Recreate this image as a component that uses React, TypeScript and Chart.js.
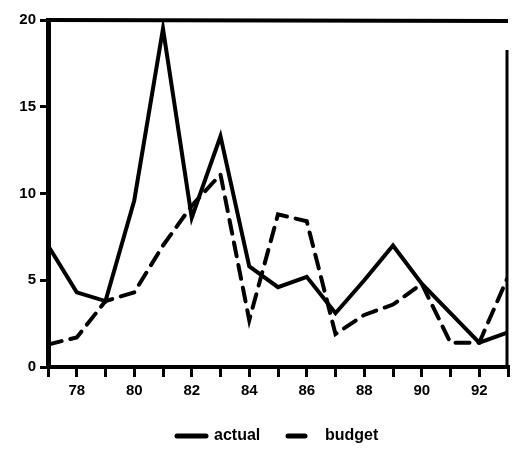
import React, { useEffect, useRef } from "react";
import { Chart, registerables } from "chart.js";

Chart.register(...registerables);

const years = [77, 78, 79, 80, 81, 82, 83, 84, 85, 86, 87, 88, 89, 90, 91, 92, 93];
const actual = [7.0, 4.3, 3.8, 9.6, 19.5, 8.6, 13.3, 5.8, 4.6, 5.2, 3.1, 5.0, 7.0, 4.8, 3.1, 1.4, 2.0];
const budget = [1.3, 1.7, 3.8, 4.3, 7.0, 9.3, 11.1, 2.7, 8.8, 8.4, 1.9, 3.0, 3.6, 4.8, 1.4, 1.4, 5.2];
const yTicks = [0, 5, 10, 15, 20];
const seriesNames = ["actual", "budget"];

const FONT = "'Liberation Sans', Arial, sans-serif";

const framePlugin = {
  id: "frame",
  afterDraw(chart: any) {
    const ctx = chart.ctx;
    const a = chart.chartArea;
    ctx.save();
    ctx.strokeStyle = "#000";
    ctx.lineCap = "butt";
    // top border
    ctx.lineWidth = 4;
    ctx.beginPath();
    ctx.moveTo(a.left, a.top);
    ctx.lineTo(a.right, a.top + 1);
    ctx.stroke();
    // right border
    ctx.lineWidth = 3;
    ctx.beginPath();
    ctx.moveTo(a.right - 1, a.top + 30);
    ctx.lineTo(a.right - 1, a.bottom);
    ctx.stroke();
    // legend
    const cy = 436;
    ctx.lineCap = "round";
    ctx.lineWidth = 5;
    ctx.setLineDash([]);
    ctx.beginPath();
    ctx.moveTo(177, cy);
    ctx.lineTo(206, cy);
    ctx.stroke();
    ctx.beginPath();
    ctx.moveTo(288, cy);
    ctx.lineTo(305, cy);
    ctx.stroke();
    ctx.fillStyle = "#000";
    ctx.font = "bold 16px " + FONT;
    ctx.textBaseline = "middle";
    ctx.textAlign = "left";
    ctx.fillText(seriesNames[0], 214, cy);
    ctx.fillText(seriesNames[1], 325, cy);
    ctx.restore();
  },
};

export default function App() {
  const ref = useRef<HTMLCanvasElement | null>(null);
  useEffect(() => {
    if (!ref.current) return;
    const chart = new Chart(ref.current, {
      type: "line",
      data: {
        labels: years,
        datasets: [
          {
            label: seriesNames[0],
            data: years.map((x, i) => ({ x, y: actual[i] })),
            borderColor: "#000",
            borderWidth: 4,
            pointRadius: 0,
            tension: 0,
            borderJoinStyle: "miter",
          },
          {
            label: seriesNames[1],
            data: years.map((x, i) => ({ x, y: budget[i] })),
            borderColor: "#000",
            borderWidth: 4,
            borderDash: [14, 9],
            borderCapStyle: "round",
            pointRadius: 0,
            tension: 0,
          },
        ],
      },
      options: {
        animation: false,
        responsive: true,
        maintainAspectRatio: false,
        layout: { padding: { top: 20, right: 4, bottom: 46, left: 0 } },
        plugins: { legend: { display: false }, tooltip: { enabled: false } },
        scales: {
          x: {
            type: "linear",
            min: 77,
            max: 93,
            afterFit: (s: any) => {
              s.height = 40;
            },
            afterBuildTicks: (s: any) => {
              s.ticks = years.map((v) => ({ value: v }));
            },
            ticks: {
              autoSkip: false,
              maxRotation: 0,
              color: "#000",
              font: { family: FONT, size: 15, weight: "bold" },
              padding: 5,
              callback: (v: any) => (Number(v) % 2 === 0 ? String(v) : ""),
            },
            grid: {
              display: true,
              drawOnChartArea: false,
              drawTicks: true,
              tickLength: 10,
              lineWidth: 3,
              color: "#000",
            },
            border: { display: true, color: "#000", width: 4 },
          },
          y: {
            min: 0,
            max: 20,
            afterFit: (s: any) => {
              s.width = 48;
            },
            afterBuildTicks: (s: any) => {
              s.ticks = yTicks.map((v) => ({ value: v }));
            },
            ticks: {
              color: "#000",
              font: { family: FONT, size: 15, weight: "bold" },
              padding: 4,
            },
            grid: {
              display: true,
              drawOnChartArea: false,
              drawTicks: true,
              tickLength: 8,
              lineWidth: 3,
              color: "#000",
            },
            border: { display: true, color: "#000", width: 5 },
          },
        },
      },
      plugins: [framePlugin],
    } as any);
    return () => chart.destroy();
  }, []);
  return (
    <div style={{ position: "fixed", left: 0, top: 0, width: 513, height: 453, background: "#fff" }}>
      <canvas ref={ref} />
    </div>
  );
}
